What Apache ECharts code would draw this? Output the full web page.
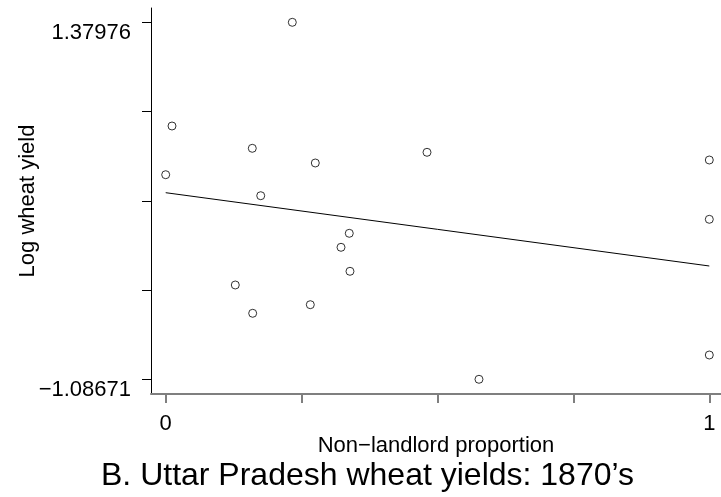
<!DOCTYPE html>
<html>
<head>
<meta charset="utf-8">
<script src="https://cdn.jsdelivr.net/npm/echarts@6/dist/echarts.min.js"></script>
<style>
html,body{margin:0;padding:0;background:#fff;}
#chart{width:721px;height:497px;}
</style>
</head>
<body>
<div id="chart"></div>
<script>
// Non-landlord proportion (x) and log wheat yield (y)
var xValues = [0.2329, 0.0116, 0.0, 0.1593, 0.2752, 0.4807, 0.1748, 0.3377, 0.3225, 0.3390, 0.1280, 0.1600, 0.2660, 0.5763, 1.0, 1.0, 1.0];
var yValues = [1.37976, 0.6633, 0.3268, 0.5092, 0.4077, 0.4816, 0.1817, -0.0780, -0.1748, -0.3406, -0.4352, -0.6307, -0.5713, -1.08671, 0.4284, 0.0187, -0.9189];
// fitted line endpoints
var fitX = [0, 1];
var fitY = [0.2025, -0.3039];
// axis ticks and labels
var xTickValues = [0, 0.25, 0.5, 0.75, 1];
var xLabelValues = [0, 1];
var yTickValues = [1.37976, 0.7631425, 0.146525, -0.4700925, -1.08671];
var yLabelValues = [1.37976, -1.08671];
var xAxisTitle = 'Non\u2212landlord proportion';
var yAxisTitle = 'Log wheat yield';
var chartTitle = 'B. Uttar Pradesh wheat yields: 1870\u2019s';

var FONT = 'Liberation Sans';
var pts = xValues.map(function (x, i) { return [x, yValues[i]]; });
var fit = fitX.map(function (x, i) { return [x, fitY[i]]; });

var chart = echarts.init(document.getElementById('chart'), null, {renderer: 'canvas'});
chart.setOption({
  animation: false,
  backgroundColor: '#ffffff',
  title: {
    text: chartTitle,
    left: 101,
    top: 460,
    padding: 0,
    textStyle: {fontFamily: FONT, fontSize: 32, fontWeight: 'normal', color: '#000'}
  },
  grid: {left: 151, right: 0, top: 8, bottom: 103, containLabel: false},
  xAxis: {
    type: 'value',
    min: -0.02704,
    max: 1.0215,
    name: xAxisTitle,
    nameLocation: 'middle',
    nameGap: 41,
    nameMoveOverlap: false,
    nameTextStyle: {fontFamily: FONT, fontSize: 22, color: '#000'},
    splitLine: {show: false},
    axisLine: {show: true, onZero: false, lineStyle: {color: '#7f7f7f', width: 2}},
    axisTick: {show: true, length: 9, customValues: xTickValues, lineStyle: {color: '#7f7f7f', width: 2}},
    axisLabel: {
      customValues: xLabelValues,
      margin: 19,
      fontFamily: FONT, fontSize: 22, color: '#000',
      formatter: function (v) { return String(v); }
    }
  },
  yAxis: {
    type: 'value',
    min: -1.1883,
    max: 1.4786,
    name: yAxisTitle,
    nameLocation: 'middle',
    nameRotate: 90,
    nameGap: 112,
    nameMoveOverlap: false,
    nameTextStyle: {fontFamily: FONT, fontSize: 22, color: '#000', verticalAlign: 'bottom', lineHeight: 22},
    splitLine: {show: false},
    axisLine: {show: true, onZero: false, lineStyle: {color: '#000', width: 1}},
    axisTick: {show: true, length: 9, customValues: yTickValues, lineStyle: {color: '#000', width: 1}},
    axisLabel: {
      customValues: yLabelValues,
      margin: 20,
      verticalAlign: 'top',
      lineHeight: 22,
      fontFamily: FONT, fontSize: 22, color: '#000',
      formatter: function (v) { return String(v).replace('-', '\u2212'); }
    }
  },
  series: [
    {
      type: 'scatter',
      data: pts,
      symbol: 'circle',
      symbolSize: 8,
      itemStyle: {color: 'rgba(0,0,0,0)', borderColor: '#000', borderWidth: 1},
      z: 3
    },
    {
      type: 'line',
      data: fit,
      showSymbol: false,
      symbol: 'none',
      lineStyle: {color: '#000', width: 1},
      z: 2
    }
  ]
});
</script>
</body>
</html>
